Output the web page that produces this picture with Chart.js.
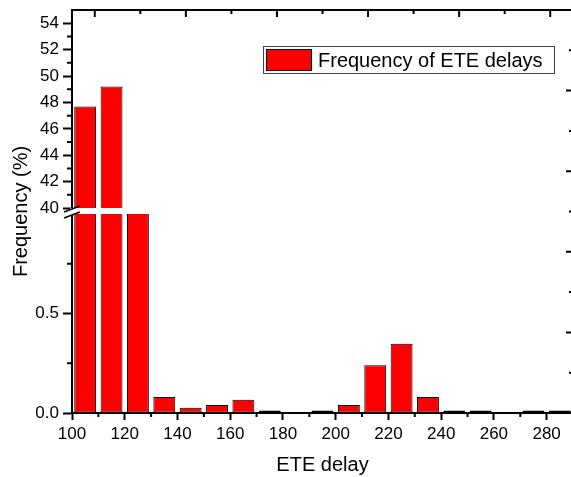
<!DOCTYPE html>
<html>
<head>
<meta charset="utf-8">
<script src="https://cdn.jsdelivr.net/npm/chart.js@4.4.1/dist/chart.umd.min.js"></script>
<style>
  html, body { margin: 0; padding: 0; overflow: hidden; background: #fff; }
  #wrap { width: 577px; height: 477px; }
</style>
</head>
<body>
<div id="wrap"><canvas id="hist" width="577" height="477"></canvas></div>
<script>
// ETE delay histogram, y axis broken between 1 and 40

const binCenters = [105, 115, 125, 135, 145, 155, 165, 175, 185, 195, 205, 215, 225, 235, 245, 255, 265, 275, 285];
const frequency = [47.7, 49.2, 2.1, 0.08, 0.026, 0.04, 0.067, 0.013, 0, 0.013, 0.04, 0.24, 0.348, 0.081, 0.013, 0.013, 0, 0.013, 0.013];

const xTicks = [100, 120, 140, 160, 180, 200, 220, 240, 260, 280];
const xMinorTicks = [110, 130, 150, 170, 190, 210, 230, 250, 270, 290];
const upperTicks = [40, 42, 44, 46, 48, 50, 52, 54];
const upperMinorTicks = [41, 43, 45, 47, 49, 51, 53];
const lowerTicks = [0, 0.5];
const lowerTickLabels = ["0.0", "0.5"];
const lowerMinorTicks = [0.25, 0.75];
// top / right frame axes only carry unlabeled inward ticks
const frameTicks = [0, 1, 2, 3, 4, 5, 6, 7, 8, 9, 10];

const seriesLabel = "Frequency of ETE delays";

const FONT = "'Liberation Sans', Arial, sans-serif";
const points = binCenters.map((x, i) => ({ x: x, y: frequency[i] }));

function setTicks(values) {
    return function (scale) {
        scale.ticks = values.map(v => ({ value: v }));
    };
}

// fixed axis width, and no extra room reserved for edge labels
function fixWidth(w) {
    return function (scale) {
        scale.width = w;
        scale.paddingTop = 0;
        scale.paddingBottom = 0;
    };
}

const axisGrid = { display: true, drawOnChartArea: false, drawTicks: true, tickLength: 9, tickWidth: 2, tickColor: '#000', offset: false };
const axisBorder = { display: true, color: '#000', width: 2, z: 1 };

const brokenAxis = {
    id: 'brokenAxis',
    beforeDatasetDraw(chart, args) {
        const ds = chart.data.datasets[args.index];
        const sc = chart.scales[ds.yAxisID];
        const a = chart.chartArea;
        const top = sc.top;
        const bottom = ds.yAxisID === 'yUp' ? sc.getPixelForValue(upperTicks[0]) : sc.bottom + 1;
        const ctx = chart.ctx;
        ctx.save();
        ctx.beginPath();
        ctx.rect(a.left, top, a.right - a.left, bottom - top);
        ctx.clip();
    },
    afterDatasetDraw(chart) {
        chart.ctx.restore();
    },
    afterDraw(chart) {
        const ctx = chart.ctx, a = chart.chartArea, s = chart.scales;
        ctx.save();
        ctx.strokeStyle = '#000';
        ctx.lineWidth = 2;

        // top and right frame lines
        ctx.beginPath();
        ctx.moveTo(a.left - 1, a.top);
        ctx.lineTo(a.right + 1, a.top);
        ctx.moveTo(a.right, a.top);
        ctx.lineTo(a.right, a.bottom);
        ctx.stroke();

        // minor ticks + inward frame ticks
        ctx.beginPath();
        xMinorTicks.forEach(v => {
            const x = s.x.getPixelForValue(v);
            ctx.moveTo(x, a.bottom); ctx.lineTo(x, a.bottom + 4);
        });
        upperMinorTicks.forEach(v => {
            const y = s.yUp.getPixelForValue(v);
            ctx.moveTo(a.left - 5, y); ctx.lineTo(a.left, y);
        });
        lowerMinorTicks.forEach(v => {
            const y = s.yLow.getPixelForValue(v);
            ctx.moveTo(a.left - 5, y); ctx.lineTo(a.left, y);
        });
        frameTicks.forEach(v => {
            const len = v % 2 === 0 ? 7 : 4;
            const x = s.x2.getPixelForValue(v);
            ctx.moveTo(x, a.top); ctx.lineTo(x, a.top + len);
            const y = s.y3.getPixelForValue(v);
            ctx.moveTo(a.right, y); ctx.lineTo(a.right - len, y);
        });
        ctx.stroke();

        // axis break marks
        const yb1 = s.yUp.getPixelForValue(upperTicks[0]) + 1;
        const yb2 = s.yLow.top + 1;
        ctx.fillStyle = '#fff';
        ctx.fillRect(a.left - 2, yb1 - 1, 4, yb2 - yb1 + 1);
        ctx.lineWidth = 1.5;
        ctx.beginPath();
        ctx.moveTo(a.left - 8, yb1 + 3); ctx.lineTo(a.left + 8, yb1 - 3);
        ctx.moveTo(a.left - 8, yb2 + 3); ctx.lineTo(a.left + 8, yb2 - 3);
        ctx.stroke();

        // legend
        const ds = chart.data.datasets[1];
        ctx.fillStyle = '#fff';
        ctx.fillRect(263, 46, 292, 28);
        ctx.strokeStyle = '#444';
        ctx.lineWidth = 1;
        ctx.strokeRect(263.5, 46.5, 291, 27);
        ctx.fillStyle = ds.backgroundColor;
        ctx.fillRect(266.5, 49.5, 45, 21);
        ctx.strokeStyle = '#000';
        ctx.strokeRect(266.5, 49.5, 45, 21);
        ctx.fillStyle = '#000';
        ctx.font = '20px ' + FONT;
        ctx.textBaseline = 'middle';
        ctx.textAlign = 'left';
        ctx.fillText(ds.label, 318, 61);
        ctx.restore();
    }
};

const barStyle = {
    backgroundColor: '#ff0000',
    borderColor: '#000',
    borderWidth: 1,
    borderSkipped: false,
    grouped: false,
    barPercentage: 0.83,
    categoryPercentage: 1.0
};

new Chart(document.getElementById('hist'), {
    type: 'bar',
    data: {
        datasets: [
            Object.assign({ label: seriesLabel, yAxisID: 'yUp', data: points }, barStyle),
            Object.assign({ label: seriesLabel, yAxisID: 'yLow', data: points }, barStyle)
        ]
    },
    options: {
        responsive: false,
        animation: false,
        devicePixelRatio: 1,
        layout: { padding: { top: 10, right: 4, left: 0, bottom: 0 } },
        plugins: { legend: { display: false }, tooltip: { enabled: false } },
        scales: {
            x: {
                type: 'linear',
                min: 100,
                max: 290,
                offset: false,
                afterBuildTicks: setTicks(xTicks),
                afterFit: s => { s.height = 64; },
                grid: Object.assign({}, axisGrid, { tickLength: 7 }),
                border: axisBorder,
                ticks: { color: '#000', font: { family: FONT, size: 17 }, padding: 4, autoSkip: false, maxRotation: 0 },
                title: { display: true, text: 'ETE delay', color: '#000', font: { family: FONT, size: 20 }, padding: 0 }
            },
            x2: { type: 'linear', position: 'top', min: 0, max: 10, display: false },
            yTitle: {
                type: 'linear',
                position: 'left',
                weight: 3,
                afterFit: fixWidth(30),
                ticks: { display: false },
                grid: { display: false },
                border: { display: false },
                title: { display: true, text: 'Frequency (%)', color: '#000', font: { family: FONT, size: 20 }, padding: { top: 9, bottom: 0 } }
            },
            yUp: {
                type: 'linear',
                position: 'left',
                stack: 'freq',
                stackWeight: 204,
                weight: 2,
                min: 39.55,
                max: 55,
                afterBuildTicks: setTicks(upperTicks),
                afterFit: fixWidth(42),
                grid: axisGrid,
                border: axisBorder,
                ticks: { color: '#000', font: { family: FONT, size: 17 }, padding: 4, autoSkip: false }
            },
            yLow: {
                type: 'linear',
                position: 'left',
                stack: 'freq',
                stackWeight: 199,
                weight: 1,
                min: 0,
                max: 1,
                afterBuildTicks: setTicks(lowerTicks),
                afterFit: fixWidth(42),
                grid: axisGrid,
                border: axisBorder,
                ticks: {
                    color: '#000',
                    font: { family: FONT, size: 17 },
                    padding: 4,
                    autoSkip: false,
                    callback: v => lowerTickLabels[lowerTicks.indexOf(v)]
                }
            },
            y3: { type: 'linear', position: 'right', min: 0, max: 10, display: false }
        }
    },
    plugins: [brokenAxis]
});
</script>
</body>
</html>
